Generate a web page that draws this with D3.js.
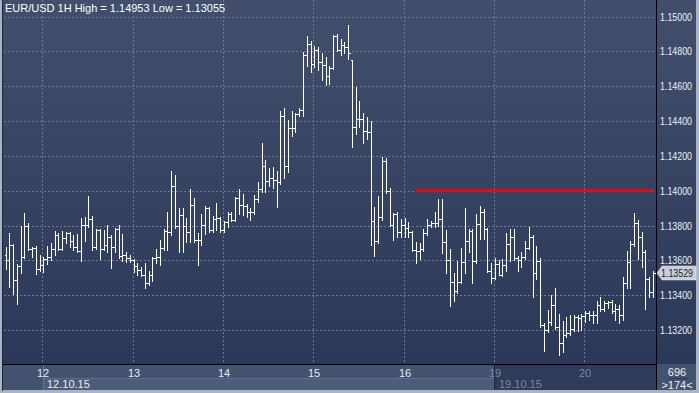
<!DOCTYPE html>
<html><head><meta charset="utf-8">
<script src="https://cdn.jsdelivr.net/npm/d3@7"></script>
<style>html,body{margin:0;padding:0;background:#aab4c4;overflow:hidden}svg{display:block}</style>
</head><body><svg id="c" width="699" height="393"></svg>
<script>
// ---- data (EUR/USD 1H, prices) ----
const openP = [1.13629,1.13600,1.13686,1.13485,1.13566,1.13617,1.13796,1.13663,1.13669,1.13548,1.13571,1.13606,1.13617,1.13663,1.13744,1.13663,1.13727,1.13755,1.13709,1.13675,1.13652,1.13801,1.13801,1.13836,1.13675,1.13773,1.13663,1.13686,1.13732,1.13675,1.13778,1.13623,1.13629,1.13612,1.13600,1.13566,1.13543,1.13514,1.13468,1.13514,1.13612,1.13617,1.13669,1.13767,1.13761,1.14026,1.13796,1.13859,1.13796,1.13761,1.13916,1.13715,1.13715,1.13801,1.13899,1.13773,1.13836,1.13842,1.13773,1.13819,1.13865,1.13830,1.13957,1.13916,1.13911,1.13876,1.13876,1.13951,1.14008,1.14141,1.14054,1.14071,1.14060,1.14049,1.14428,1.14141,1.14359,1.14359,1.14440,1.14463,1.14779,1.14842,1.14727,1.14808,1.14739,1.14721,1.14658,1.14704,1.14888,1.14808,1.14836,1.14825,1.14750,1.14365,1.14411,1.14411,1.14342,1.14336,1.13824,1.13709,1.13847,1.14169,1.13997,1.13801,1.13865,1.13761,1.13801,1.13784,1.13761,1.13658,1.13652,1.13663,1.13755,1.13801,1.13813,1.13813,1.13836,1.13704,1.13600,1.13474,1.13422,1.13474,1.13589,1.13709,1.13767,1.13594,1.13807,1.13876,1.13778,1.13537,1.13497,1.13577,1.13514,1.13571,1.13692,1.13732,1.13612,1.13600,1.13617,1.13669,1.13732,1.13525,1.13594,1.13226,1.13198,1.13244,1.13341,1.13215,1.13123,1.13169,1.13180,1.13203,1.13272,1.13267,1.13278,1.13296,1.13284,1.13284,1.13341,1.13318,1.13353,1.13359,1.13307,1.13318,1.13284,1.13468,1.13589,1.13692,1.13813,1.13732,1.13646,1.13491,1.13416];
const highP = [1.13675,1.13755,1.13692,1.13577,1.13796,1.13870,1.13813,1.13675,1.13681,1.13629,1.13617,1.13681,1.13698,1.13767,1.13755,1.13767,1.13761,1.13761,1.13744,1.13750,1.13842,1.13847,1.13968,1.13853,1.13778,1.13778,1.13773,1.13801,1.13744,1.13784,1.13801,1.13750,1.13646,1.13629,1.13606,1.13583,1.13560,1.13583,1.13537,1.13617,1.13663,1.13715,1.13778,1.13876,1.14112,1.14089,1.13899,1.13899,1.13842,1.14008,1.13957,1.13755,1.13865,1.13911,1.13905,1.13853,1.13928,1.13847,1.13824,1.13876,1.13876,1.13962,1.14008,1.13980,1.13922,1.13899,1.13974,1.14049,1.14273,1.14175,1.14129,1.14135,1.14112,1.14457,1.14474,1.14405,1.14457,1.14445,1.14474,1.14796,1.14888,1.14859,1.14831,1.14825,1.14790,1.14767,1.14716,1.14894,1.14900,1.14871,1.14854,1.14953,1.14750,1.14595,1.14514,1.14445,1.14422,1.14399,1.13905,1.13968,1.14192,1.14187,1.14014,1.13870,1.13876,1.13836,1.13842,1.13819,1.13767,1.13704,1.13698,1.13778,1.13836,1.13824,1.13876,1.13951,1.13951,1.13773,1.13663,1.13525,1.13594,1.13669,1.13899,1.13778,1.13778,1.13865,1.13911,1.13893,1.13784,1.13583,1.13612,1.13600,1.13606,1.13755,1.13778,1.13778,1.13623,1.13646,1.13709,1.13790,1.13744,1.13681,1.13612,1.13238,1.13313,1.13399,1.13439,1.13290,1.13249,1.13272,1.13284,1.13284,1.13284,1.13290,1.13307,1.13307,1.13307,1.13364,1.13387,1.13364,1.13364,1.13370,1.13347,1.13341,1.13502,1.13652,1.13709,1.13870,1.13830,1.13761,1.13658,1.13502,1.13537];
const lowP = [1.13548,1.13445,1.13405,1.13347,1.13525,1.13612,1.13658,1.13617,1.13520,1.13537,1.13531,1.13577,1.13600,1.13629,1.13658,1.13658,1.13698,1.13675,1.13658,1.13646,1.13594,1.13709,1.13790,1.13658,1.13663,1.13606,1.13658,1.13646,1.13554,1.13646,1.13612,1.13594,1.13589,1.13589,1.13531,1.13514,1.13508,1.13439,1.13456,1.13479,1.13583,1.13571,1.13658,1.13658,1.13744,1.13784,1.13646,1.13646,1.13704,1.13704,1.13704,1.13571,1.13686,1.13750,1.13761,1.13761,1.13773,1.13761,1.13761,1.13790,1.13824,1.13824,1.13865,1.13859,1.13847,1.13830,1.13865,1.13934,1.13991,1.13991,1.14026,1.14014,1.13905,1.14037,1.14071,1.14106,1.14313,1.14336,1.14428,1.14428,1.14716,1.14681,1.14710,1.14693,1.14635,1.14606,1.14612,1.14698,1.14802,1.14779,1.14790,1.14756,1.14250,1.14325,1.14365,1.14273,1.14296,1.13686,1.13623,1.13698,1.13830,1.13985,1.13796,1.13715,1.13732,1.13732,1.13732,1.13732,1.13652,1.13583,1.13606,1.13652,1.13744,1.13790,1.13790,1.13796,1.13640,1.13525,1.13336,1.13364,1.13410,1.13468,1.13525,1.13646,1.13468,1.13583,1.13721,1.13721,1.13531,1.13468,1.13491,1.13514,1.13508,1.13537,1.13594,1.13600,1.13537,1.13560,1.13606,1.13663,1.13387,1.13491,1.13215,1.13077,1.13186,1.13226,1.13203,1.13055,1.13071,1.13157,1.13169,1.13192,1.13192,1.13198,1.13244,1.13255,1.13238,1.13238,1.13307,1.13307,1.13324,1.13296,1.13255,1.13238,1.13255,1.13439,1.13439,1.13681,1.13606,1.13560,1.13318,1.13387,1.13387];
const closeP = [1.13600,1.13686,1.13485,1.13566,1.13617,1.13796,1.13663,1.13669,1.13548,1.13571,1.13606,1.13617,1.13663,1.13744,1.13663,1.13727,1.13755,1.13709,1.13675,1.13652,1.13801,1.13801,1.13836,1.13675,1.13773,1.13663,1.13686,1.13732,1.13675,1.13778,1.13623,1.13629,1.13612,1.13600,1.13566,1.13543,1.13514,1.13468,1.13514,1.13612,1.13617,1.13669,1.13767,1.13761,1.14026,1.13796,1.13859,1.13796,1.13761,1.13916,1.13715,1.13715,1.13801,1.13899,1.13773,1.13836,1.13842,1.13773,1.13819,1.13865,1.13830,1.13957,1.13916,1.13911,1.13876,1.13876,1.13951,1.14008,1.14141,1.14054,1.14071,1.14060,1.14049,1.14428,1.14141,1.14359,1.14359,1.14440,1.14463,1.14779,1.14842,1.14727,1.14808,1.14739,1.14721,1.14658,1.14704,1.14888,1.14808,1.14836,1.14825,1.14790,1.14365,1.14411,1.14411,1.14342,1.14336,1.13824,1.13709,1.13847,1.14169,1.13997,1.13801,1.13865,1.13761,1.13801,1.13784,1.13761,1.13658,1.13652,1.13663,1.13755,1.13801,1.13813,1.13813,1.13836,1.13704,1.13600,1.13474,1.13422,1.13474,1.13589,1.13709,1.13767,1.13594,1.13807,1.13876,1.13778,1.13537,1.13497,1.13577,1.13514,1.13571,1.13692,1.13732,1.13612,1.13600,1.13617,1.13669,1.13732,1.13525,1.13594,1.13226,1.13198,1.13244,1.13341,1.13215,1.13123,1.13169,1.13180,1.13203,1.13272,1.13267,1.13278,1.13296,1.13284,1.13284,1.13341,1.13318,1.13353,1.13359,1.13307,1.13318,1.13284,1.13468,1.13589,1.13692,1.13813,1.13732,1.13646,1.13491,1.13416,1.13529];
const dayBarIndex = [10, 34, 58, 82, 106, 130, 154];
const dayLabels = ["12", "13", "14", "15", "16", "19", "20"];
const priceTicks = [1.132, 1.134, 1.136, 1.138, 1.140, 1.142, 1.144, 1.146, 1.148, 1.150];
const weekLabels = ["12.10.15", "19.10.15"];
const weekStartIndex = [10, 130];
const levelPrice = [1.14000];
const levelStartIndex = [109];
const lastPrice = 1.13529;
const title = "EUR/USD 1H High = 1.14953 Low = 1.13055";
const barCounters = ["696", ">174<"];

// ---- layout ----
const W = 699, H = 393;
const plotL = 3, plotR = 656, plotB = 364;
const n = closeP.length;
const x = d3.scaleLinear().domain([0, 172]).range([5.66, 653.0]);
const y = d3.scaleLinear().domain([1.132, 1.150]).range([330, 16.5]);
const svg = d3.select("#c");
const font = "'Liberation Sans', Arial, sans-serif";

const defs = svg.append("defs");
const g1 = defs.append("linearGradient").attr("id", "bg").attr("x1", 0).attr("y1", 0).attr("x2", 0).attr("y2", 1);
g1.append("stop").attr("offset", 0).attr("stop-color", "#414f6d");
g1.append("stop").attr("offset", 1).attr("stop-color", "#2b3857");

svg.append("rect").attr("x", 0).attr("y", 0).attr("width", W).attr("height", H).attr("fill", "#aab4c4");
svg.append("rect").attr("x", plotL).attr("y", 0).attr("width", 696 - plotL).attr("height", plotB).attr("fill", "url(#bg)");
svg.append("rect").attr("x", 2).attr("y", 0).attr("width", 1).attr("height", 391).attr("fill", "#1f2738");

svg.append("rect").attr("x", plotL).attr("y", plotB).attr("width", plotR - plotL).attr("height", 26).attr("fill", "#43526f");
svg.append("rect").attr("x", plotR + 1).attr("y", plotB).attr("width", 696 - plotR - 1).attr("height", 26).attr("fill", "#43526f");

const wk = svg.append("g");
weekLabels.forEach((lab, k) => {
  const xs = Math.round(x(weekStartIndex[k]));
  if (k === 0) {
    const xe = Math.round(x(weekStartIndex[k + 1]));
    wk.append("rect").attr("x", xs).attr("y", 378).attr("width", xe - xs).attr("height", 12).attr("fill", "#4d5c7a");
    wk.append("line").attr("x1", xs).attr("x2", xe).attr("y1", 378.5).attr("y2", 378.5).attr("stroke", "#5e6d8a");
    wk.append("line").attr("x1", xs + 0.5).attr("x2", xs + 0.5).attr("y1", 365).attr("y2", 390).attr("stroke", "#6a7894");
    wk.append("text").attr("x", xs + 4).attr("y", 388).attr("fill", "#e8ecf2").attr("font-size", 11).attr("font-family", font).text(lab);
  } else {
    wk.append("rect").attr("x", xs - 1).attr("y", plotB + 1).attr("width", plotR - xs + 1).attr("height", 25).attr("fill", "#2e3b59");
    wk.append("line").attr("x1", xs - 0.5).attr("x2", xs - 0.5).attr("y1", 365).attr("y2", 390).attr("stroke", "#1e2840");
    wk.append("text").attr("x", xs + 4).attr("y", 388).attr("fill", "#7d89a0").attr("font-size", 11).attr("font-family", font).text(lab);
  }
});

const grid = svg.append("g").attr("stroke", "#6a7a98").attr("stroke-dasharray", "2,2").attr("stroke-width", 1);
priceTicks.forEach(p => {
  const yy = Math.round(y(p)) + 0.5;
  grid.append("line").attr("x1", plotL + 1).attr("x2", plotR - 2).attr("y1", yy).attr("y2", yy);
});
dayBarIndex.forEach(i => {
  const xx = Math.round(x(i)) - 0.5;
  grid.append("line").attr("x1", xx).attr("x2", xx).attr("y1", 0).attr("y2", plotB);
});

dayBarIndex.forEach((i, k) => {
  const xx = Math.round(x(i));
  const grey = i >= weekStartIndex[1];
  svg.append("text").attr("x", xx).attr("y", 377).attr("text-anchor", "middle")
    .attr("fill", grey ? "#7d89a0" : "#e8ecf2").attr("font-size", 11).attr("font-family", font).text(dayLabels[k]);
});

svg.append("line").attr("x1", plotL).attr("x2", plotR + 1).attr("y1", plotB + 0.5).attr("y2", plotB + 0.5).attr("stroke", "#000");
svg.append("line").attr("x1", plotR + 0.5).attr("x2", plotR + 0.5).attr("y1", 0).attr("y2", 390).attr("stroke", "#000");

priceTicks.forEach(p => {
  svg.append("text").attr("x", 660).attr("y", y(p) + 4).attr("fill", "#eef1f6").attr("font-size", 10.5)
    .attr("font-family", font).attr("textLength", 32).attr("lengthAdjust", "spacingAndGlyphs").text(p.toFixed(5));
});

levelPrice.forEach((p, k) => {
  svg.append("line").attr("x1", x(levelStartIndex[k])).attr("x2", plotR - 3).attr("y1", y(p)).attr("y2", y(p))
    .attr("stroke", "#d8101c").attr("stroke-width", 3);
});

const bars = svg.append("g").attr("stroke", "#ffffff").attr("stroke-width", 1).attr("shape-rendering", "crispEdges");
for (let i = 0; i < n; i++) {
  const xx = Math.round(x(i)) + 0.5;
  bars.append("line").attr("x1", xx).attr("x2", xx).attr("y1", Math.round(y(highP[i]))).attr("y2", Math.round(y(lowP[i])) + 1);
  const yo = Math.round(y(openP[i])) + 0.5, yc = Math.round(y(closeP[i])) + 0.5;
  bars.append("line").attr("x1", xx - 2).attr("x2", xx).attr("y1", yo).attr("y2", yo);
  bars.append("line").attr("x1", xx).attr("x2", xx + 2).attr("y1", yc).attr("y2", yc);
}

const ly = Math.round(y(lastPrice));
svg.append("path").attr("d", `M${plotR + 1},${ly} L${plotR + 6},${ly - 7} L${696},${ly - 7} L${696},${ly + 7} L${plotR + 6},${ly + 7} Z`)
  .attr("fill", "#c9ced8").attr("stroke", "#e8ebf0").attr("stroke-width", 0.5);
svg.append("text").attr("x", 661).attr("y", ly + 4).attr("fill", "#1a1f2a").attr("font-size", 10.5).attr("font-family", font)
  .attr("textLength", 32).attr("lengthAdjust", "spacingAndGlyphs").text(lastPrice.toFixed(5));

svg.append("text").attr("x", 677).attr("y", 376).attr("text-anchor", "middle").attr("fill", "#eef1f6").attr("font-size", 11).attr("font-family", font).text(barCounters[0]);
svg.append("line").attr("x1", 668).attr("x2", 688).attr("y1", 378.5).attr("y2", 378.5).attr("stroke", "#2a3550");
svg.append("text").attr("x", 677).attr("y", 389).attr("text-anchor", "middle").attr("fill", "#eef1f6").attr("font-size", 11).attr("font-family", font).text(barCounters[1]);

svg.append("text").attr("x", 5).attr("y", 12).attr("fill", "#ffffff").attr("font-size", 11).attr("font-family", font).text(title);
</script></body></html>
